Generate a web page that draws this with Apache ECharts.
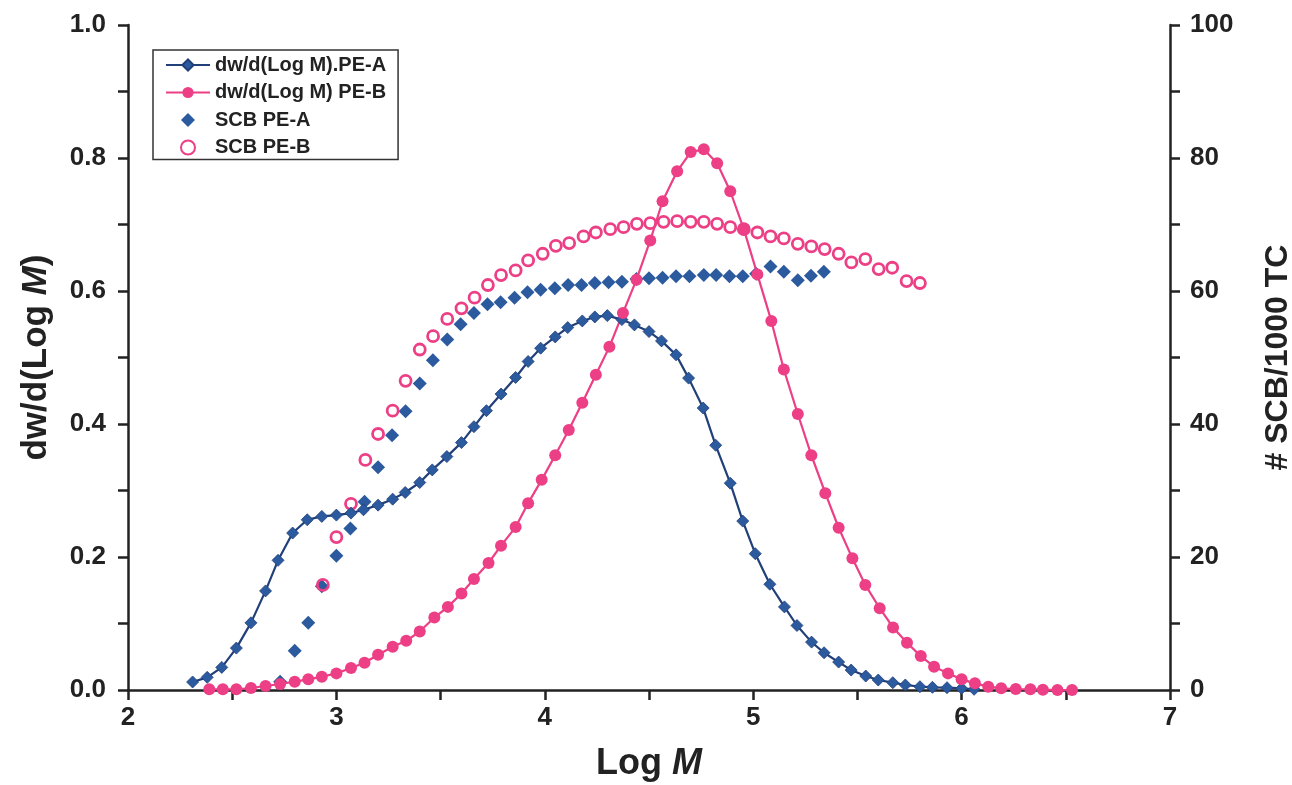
<!DOCTYPE html>
<html>
<head>
<meta charset="utf-8">
<script src="https://cdn.jsdelivr.net/npm/echarts@6/dist/echarts.min.js"></script>
<style>
html,body{margin:0;padding:0;background:#fff;}
#chart{width:1292px;height:785px;}
</style>
</head>
<body>
<div id="chart"></div>
<script>
// dw/d(Log M) PE-A
const peA_logM = [2.31,2.38,2.45,2.52,2.59,2.66,2.72,2.79,2.86,2.93,3.00,3.07,3.13,3.20,3.27,3.33,3.40,3.46,3.53,3.60,3.66,3.72,3.79,3.86,3.92,3.98,4.05,4.11,4.18,4.24,4.30,4.37,4.43,4.50,4.56,4.63,4.69,4.76,4.82,4.89,4.95,5.01,5.08,5.15,5.21,5.28,5.34,5.41,5.47,5.54,5.60,5.67,5.73,5.80,5.86,5.93,6.00,6.06];
const peA_dw = [0.012,0.019,0.034,0.063,0.101,0.149,0.195,0.236,0.256,0.261,0.263,0.266,0.271,0.278,0.287,0.297,0.312,0.331,0.351,0.372,0.396,0.420,0.445,0.470,0.494,0.514,0.531,0.545,0.555,0.561,0.563,0.557,0.549,0.539,0.525,0.504,0.469,0.424,0.368,0.311,0.254,0.205,0.159,0.125,0.097,0.072,0.056,0.042,0.030,0.021,0.015,0.011,0.0075,0.005,0.004,0.0035,0.0025,0.001];

// dw/d(Log M) PE-B
const peB_logM = [2.39,2.455,2.52,2.59,2.66,2.73,2.80,2.865,2.93,3.00,3.07,3.135,3.20,3.27,3.335,3.40,3.47,3.535,3.60,3.66,3.73,3.79,3.86,3.92,3.985,4.05,4.115,4.18,4.245,4.31,4.375,4.44,4.506,4.565,4.635,4.70,4.763,4.827,4.89,4.955,5.02,5.087,5.147,5.214,5.279,5.346,5.41,5.476,5.538,5.607,5.671,5.738,5.804,5.868,5.935,6.00,6.064,6.128,6.19,6.26,6.33,6.39,6.46,6.53];
const peB_dw = [0.001,0.001,0.001,0.003,0.006,0.009,0.0125,0.016,0.020,0.025,0.033,0.041,0.053,0.065,0.074,0.088,0.109,0.125,0.145,0.167,0.191,0.217,0.245,0.281,0.316,0.353,0.391,0.432,0.474,0.516,0.567,0.617,0.676,0.735,0.780,0.809,0.813,0.792,0.750,0.693,0.625,0.555,0.482,0.415,0.353,0.296,0.244,0.198,0.158,0.123,0.094,0.071,0.051,0.035,0.025,0.016,0.010,0.005,0.0025,0.0015,0.001,0.0005,0.0,0.0];

// SCB PE-A (# SCB/1000 TC)
const scbA_logM = [2.73,2.80,2.865,2.93,3.00,3.067,3.135,3.20,3.267,3.332,3.40,3.463,3.532,3.596,3.66,3.725,3.788,3.855,3.917,3.98,4.048,4.112,4.176,4.24,4.306,4.37,4.44,4.50,4.565,4.63,4.694,4.763,4.822,4.886,4.95,5.014,5.083,5.147,5.214,5.277,5.339];
const scbA_val = [1.25,5.9,10.1,15.6,20.2,24.3,28.3,33.5,38.3,41.9,46.1,49.6,52.7,55.0,56.7,58.0,58.3,59.0,59.8,60.2,60.4,60.9,60.9,61.2,61.3,61.4,61.8,61.9,62.0,62.2,62.2,62.4,62.4,62.2,62.2,62.6,63.7,62.9,61.6,62.3,62.9];

// SCB PE-B (# SCB/1000 TC)
const scbB_logM = [2.935,3.0,3.07,3.139,3.20,3.27,3.332,3.40,3.464,3.532,3.60,3.663,3.727,3.79,3.86,3.92,3.99,4.053,4.117,4.186,4.245,4.314,4.378,4.442,4.506,4.57,4.635,4.70,4.763,4.827,4.89,4.955,5.02,5.083,5.147,5.214,5.279,5.343,5.41,5.471,5.538,5.602,5.667,5.736,5.80];
const scbB_val = [15.8,23.0,28.0,34.6,38.5,42.0,46.5,51.2,53.2,55.8,57.4,59.0,60.9,62.4,63.1,64.6,65.6,66.8,67.2,68.2,68.8,69.3,69.6,70.1,70.2,70.4,70.5,70.4,70.4,70.1,69.6,69.3,68.8,68.2,67.9,67.1,66.7,66.3,65.6,64.3,64.8,63.3,63.5,61.5,61.2];

const seriesNames = ['dw/d(Log M).PE-A','dw/d(Log M) PE-B','SCB PE-A','SCB PE-B'];

const zip = (a,b) => a.map((v,i)=>[v,b[i]]);
const BLUE = '#2c5a9e', BLUE_LINE = '#213f78', PINK = '#ec3f86';
const FONT = 'Liberation Sans, Arial, sans-serif';
const TXT = '#222';
// small centred diamond for the legend row of the scatter series (wide invisible bounds keep it unstretched)
const LEGEND_DIAMOND = 'path://M0,7L0.01,7ZM44,7L44.01,7ZM22,0L29,7L22,14L15,7Z';

const chart = echarts.init(document.getElementById('chart'), null, {renderer:'canvas'});
chart.setOption({
  animation:false,
  backgroundColor:'#fff',
  grid:{left:128,right:122,top:25,bottom:95, outerBoundsMode:'none', containLabel:false},
  legend:{
    orient:'vertical', left:153, top:50,
    data:[
      {name:seriesNames[0]},
      {name:seriesNames[1]},
      {name:seriesNames[2], icon:LEGEND_DIAMOND},
      {name:seriesNames[3]}
    ],
    borderColor:'#333', borderWidth:1.5,
    padding:[4,12,1,12],
    itemWidth:44, itemHeight:14, itemGap:5.5,
    textStyle:{fontFamily:FONT, fontWeight:'bold', fontSize:20, lineHeight:22, color:TXT}
  },
  xAxis:{
    type:'value', min:2, max:7, interval:0.5,
    name:'Log {i|M}', nameLocation:'middle', nameGap:56,
    nameTextStyle:{fontFamily:FONT, fontWeight:'bold', fontSize:36, color:TXT,
      rich:{i:{fontFamily:FONT, fontWeight:'bold', fontStyle:'italic', fontSize:36, color:TXT}}},
    axisLine:{show:true, onZero:false, lineStyle:{color:'#222', width:2.5}},
    axisTick:{show:true, inside:false, length:10, lineStyle:{color:'#222', width:2.5}},
    axisLabel:{margin:15, fontFamily:FONT, fontWeight:'bold', fontSize:26, color:TXT,
      formatter:v => Number.isInteger(v) ? String(v) : ''},
    splitLine:{show:false}
  },
  yAxis:[{
    type:'value', min:0, max:1, interval:0.1, position:'left',
    name:'dw/d(Log {i|M})', nameLocation:'middle', nameGap:74, nameRotate:90,
    nameTextStyle:{fontFamily:FONT, fontWeight:'bold', fontSize:35, color:TXT,
      rich:{i:{fontFamily:FONT, fontWeight:'bold', fontStyle:'italic', fontSize:35, color:TXT}}},
    axisLine:{show:true, lineStyle:{color:'#222', width:2.5}},
    axisTick:{show:true, inside:false, length:10, lineStyle:{color:'#222', width:2.5}},
    axisLabel:{margin:22, fontFamily:FONT, fontWeight:'bold', fontSize:26, color:TXT,
      formatter:v => (Math.round(v*10)%2===0) ? v.toFixed(1) : ''},
    splitLine:{show:false}
  },{
    type:'value', min:0, max:100, interval:10, position:'right',
    name:'# SCB/1000 TC', nameLocation:'middle', nameGap:92, nameRotate:90,
    nameTextStyle:{fontFamily:FONT, fontWeight:'bold', fontSize:32, color:TXT},
    axisLine:{show:true, lineStyle:{color:'#222', width:2.5}},
    axisTick:{show:true, inside:false, length:10, lineStyle:{color:'#222', width:2.5}},
    axisLabel:{margin:20, fontFamily:FONT, fontWeight:'bold', fontSize:26, color:TXT,
      formatter:v => (Math.round(v)%20===0) ? String(Math.round(v)) : ''},
    splitLine:{show:false}
  }],
  series:[{
    name:seriesNames[0], type:'line', yAxisIndex:0,
    data:zip(peA_logM, peA_dw),
    symbol:'diamond', symbolSize:12, showAllSymbol:true,
    lineStyle:{color:BLUE_LINE, width:2.2},
    itemStyle:{color:BLUE, borderColor:BLUE_LINE, borderWidth:0.8}
  },{
    name:seriesNames[1], type:'line', yAxisIndex:0,
    data:zip(peB_logM, peB_dw),
    symbol:'circle', symbolSize:12, showAllSymbol:true,
    lineStyle:{color:PINK, width:2.2},
    itemStyle:{color:PINK}
  },{
    name:seriesNames[2], type:'scatter', yAxisIndex:1,
    data:zip(scbA_logM, scbA_val),
    symbol:'diamond', symbolSize:14,
    itemStyle:{color:BLUE, opacity:1}
  },{
    name:seriesNames[3], type:'scatter', yAxisIndex:1,
    data:zip(scbB_logM, scbB_val),
    symbol:'circle', symbolSize:11,
    itemStyle:{color:'rgba(255,255,255,0)', borderColor:PINK, borderWidth:2.8, opacity:1}
  }]
});
</script>
</body>
</html>
